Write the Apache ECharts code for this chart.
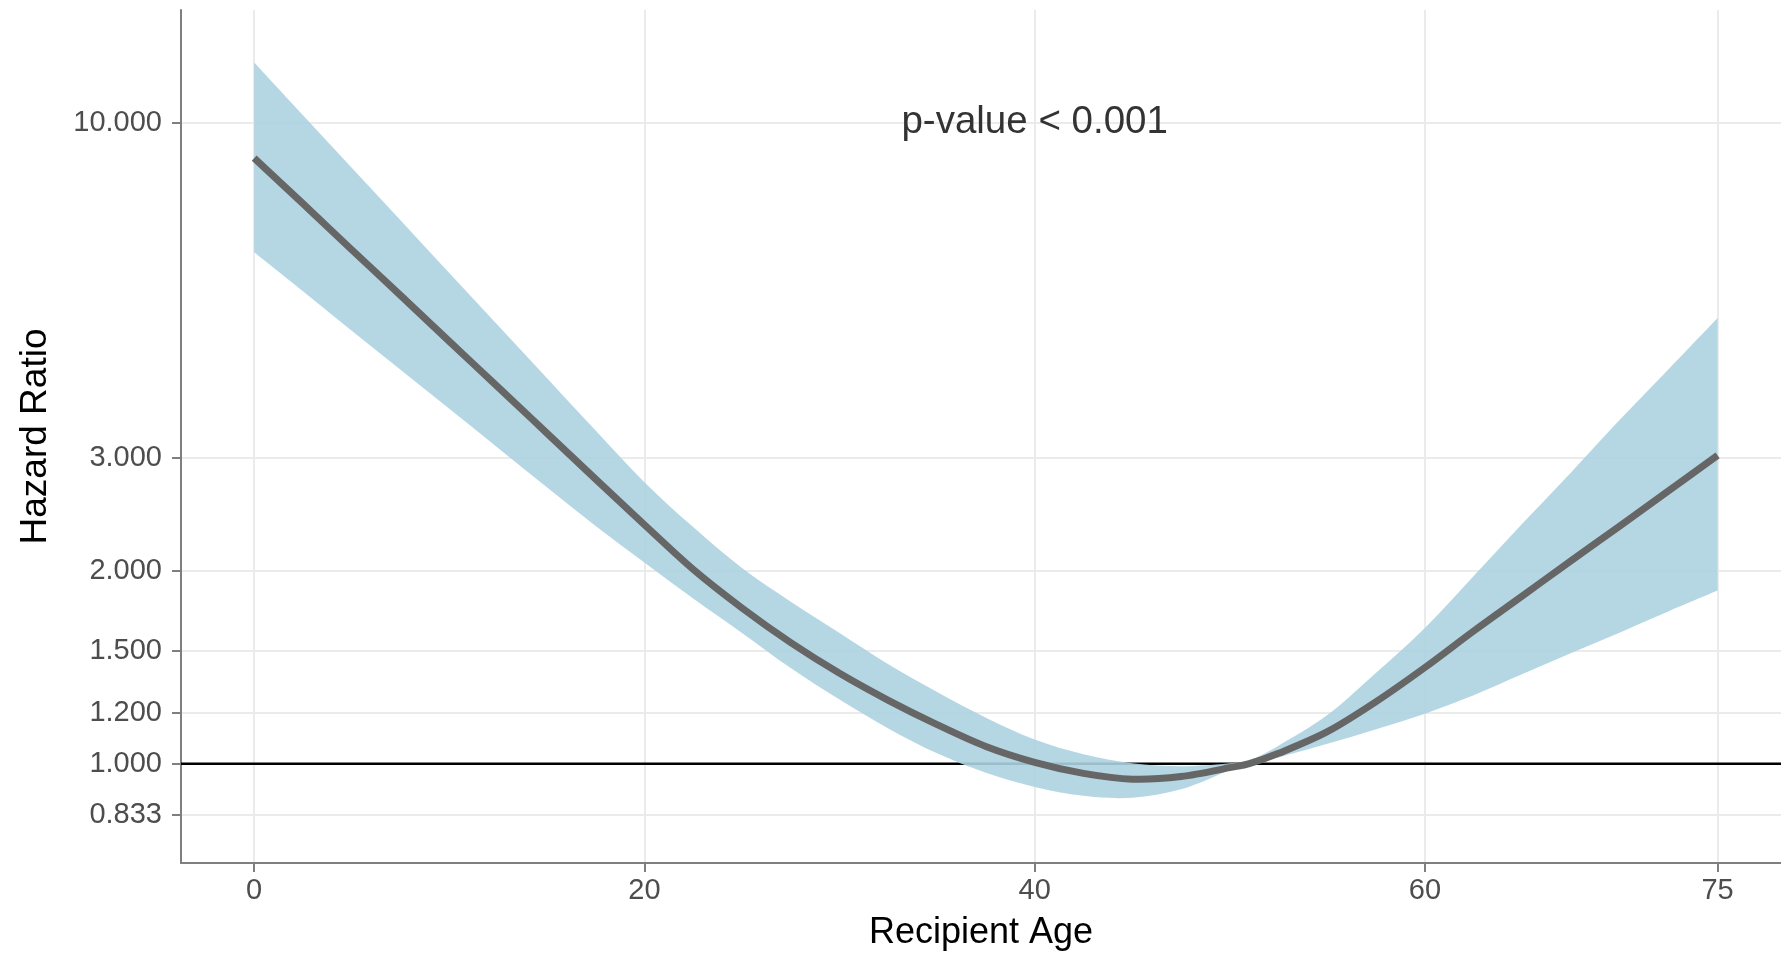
<!DOCTYPE html>
<html><head><meta charset="utf-8">
<script src="https://cdn.jsdelivr.net/npm/echarts@6/dist/echarts.min.js"></script>
<style>html,body{margin:0;padding:0;background:#fff}#c{width:1781px;height:956px}</style>
</head><body><div id="c"></div>
<script>
// ---- data ----
const ages = [0,2.5,5,7.5,10,12.5,15,17.5,20,22.5,25,27.5,30,32.5,35,37.5,40,42.5,45,47.5,50,51,52.5,55,57.5,60,62.5,65,67.5,70,72.5,75];
const hr = [8.81,7.48,6.34,5.38,4.56,3.87,3.28,2.78,2.36,2.01,1.75,1.545,1.384,1.256,1.151,1.064,1.005,0.966,0.946,0.955,0.986,1.000,1.038,1.122,1.250,1.413,1.611,1.828,2.075,2.350,2.667,3.027];
const hrUpper = [12.42,10.28,8.51,7.05,5.83,4.83,4.00,3.31,2.75,2.34,2.02,1.79,1.60,1.43,1.294,1.180,1.091,1.035,1.002,0.991,1.002,1.012,1.067,1.191,1.387,1.629,1.963,2.371,2.851,3.443,4.130,4.962];
const hrLower = [6.28,5.46,4.74,4.12,3.58,3.11,2.70,2.35,2.06,1.81,1.60,1.41,1.259,1.135,1.038,0.968,0.920,0.891,0.885,0.912,0.977,0.995,1.023,1.074,1.132,1.197,1.279,1.380,1.489,1.603,1.730,1.863];
const xTicks = [0,20,40,60,75];
const yTicks = [0.833,1,1.2,1.5,2,3,10];
const refHR = 1;
const annotation = {age: 40, hr: 10, text: 'p-value < 0.001'};
const xTitle = 'Recipient Age';
const yTitle = 'Hazard Ratio';

const FONT = 'Liberation Sans, Arial, Helvetica, sans-serif';
const chart = echarts.init(document.getElementById('c'), null, {renderer: 'canvas'});

const bandData = ages.map((a, i) => [a, hrUpper[i], hrLower[i]]);

// Catmull-Rom spline through pixel points -> cubic bezier path segments
function splineSegs(p, startCmd) {
  let d = startCmd + p[0][0].toFixed(2) + ' ' + p[0][1].toFixed(2);
  const n = p.length;
  for (let i = 0; i < n - 1; i++) {
    const p0 = p[Math.max(i - 1, 0)], p1 = p[i], p2 = p[i + 1], p3 = p[Math.min(i + 2, n - 1)];
    const c1 = [p1[0] + (p2[0] - p0[0]) / 6, p1[1] + (p2[1] - p0[1]) / 6];
    const c2 = [p2[0] - (p3[0] - p1[0]) / 6, p2[1] - (p3[1] - p1[1]) / 6];
    d += ' C ' + c1[0].toFixed(2) + ' ' + c1[1].toFixed(2) + ' ' + c2[0].toFixed(2) + ' ' + c2[1].toFixed(2) + ' ' + p2[0].toFixed(2) + ' ' + p2[1].toFixed(2);
  }
  return d;
}

chart.setOption({
  animation: false,
  backgroundColor: '#ffffff',
  grid: {left: 181, right: 0, top: 10, bottom: 93, containLabel: false},
  xAxis: {
    type: 'value', min: -3.75, max: 78.25,
    name: xTitle, nameLocation: 'middle', nameGap: 52,
    nameTextStyle: {fontFamily: FONT, fontSize: 36, color: '#000000'},
    axisLine: {show: true, onZero: false, lineStyle: {color: '#7f7f7f', width: 2}},
    axisTick: {show: true, length: 9, lineStyle: {color: '#7f7f7f', width: 2}, customValues: xTicks},
    axisLabel: {show: true, customValues: xTicks, margin: 13, fontFamily: FONT, fontSize: 29, color: '#4d4d4d'},
    splitLine: {show: true, lineStyle: {color: '#ebebeb', width: 2}},
    minorSplitLine: {show: false}
  },
  yAxis: {
    type: 'log', logBase: 10, min: 0.7, max: 15,
    name: yTitle, nameLocation: 'middle', nameGap: 127, nameRotate: 90,
    nameTextStyle: {fontFamily: FONT, fontSize: 37, color: '#000000'},
    axisLine: {show: true, onZero: false, lineStyle: {color: '#7f7f7f', width: 2}},
    axisTick: {show: true, length: 9, lineStyle: {color: '#7f7f7f', width: 2}, customValues: yTicks},
    axisLabel: {show: true, customValues: yTicks, margin: 19, fontFamily: FONT, fontSize: 29, color: '#4d4d4d',
      formatter: v => Number(v).toFixed(3)},
    splitLine: {show: true, lineStyle: {color: '#ebebeb', width: 2}},
    minorSplitLine: {show: false}
  },
  series: [
    {
      type: 'custom', name: 'HR', z: 2, silent: true, clip: true,
      data: bandData,
      encode: {x: 0, y: [1, 2]},
      renderItem: function (params, api) {
        if (params.dataIndex !== 0) return null;
        const cs = params.coordSys;
        const yRef = api.coord([0, refHR])[1];
        const up = [], lo = [], mid = [];
        for (let i = 0; i < ages.length; i++) {
          up.push(api.coord([ages[i], hrUpper[i]]));
          mid.push(api.coord([ages[i], hr[i]]));
        }
        for (let i = ages.length - 1; i >= 0; i--) lo.push(api.coord([ages[i], hrLower[i]]));
        const bandPath = splineSegs(up, 'M ') + ' ' + splineSegs(lo, 'L ') + ' Z';
        const linePath = splineSegs(mid, 'M ');
        const tp = api.coord([annotation.age, annotation.hr]);
        return {
          type: 'group',
          children: [
            {type: 'line', shape: {x1: cs.x, y1: yRef, x2: cs.x + cs.width, y2: yRef},
             style: {stroke: '#000000', lineWidth: 2.5}},
            {type: 'path', shape: {pathData: bandPath},
             style: {fill: 'rgba(173,210,224,0.9)', stroke: null}},
            {type: 'path', shape: {pathData: linePath},
             style: {fill: null, stroke: '#666666', lineWidth: 7, lineCap: 'butt', lineJoin: 'round'}},
            {type: 'text', x: tp[0], y: tp[1],
             style: {text: annotation.text, fill: '#333333', font: '38.5px ' + FONT,
                     align: 'center', verticalAlign: 'middle'}}
          ]
        };
      }
    }
  ]
});
</script>
</body></html>
